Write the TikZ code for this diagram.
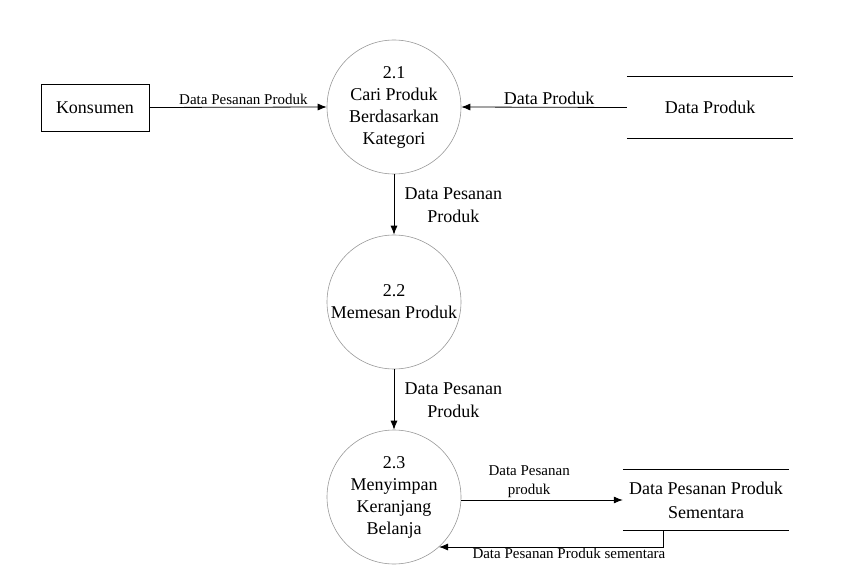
\documentclass[tikz,border=0pt]{standalone}
\usepackage{fontspec}
\setmainfont{Liberation Serif}
\usetikzlibrary{arrows.meta,calc}
\tikzset{
	proses/.style={circle, draw=black!40, line width=0.6pt, minimum size=134pt, inner sep=0pt, align=center, font=\fontsize{18}{22}\selectfont},
	entitas/.style={draw, line width=0.8pt, minimum width=108pt, minimum height=47pt, font=\fontsize{18}{22}\selectfont},
	simpan/.style={minimum width=166pt, minimum height=61pt, inner sep=0pt, align=center, font=\fontsize{18}{24}\selectfont},
	alir/.style={-{Latex[length=9pt,width=7pt]}, line width=0.8pt},
	kecil/.style={font=\fontsize{15}{19}\selectfont, align=center},
	besar/.style={font=\fontsize{18}{23}\selectfont, align=center},
}

\begin{document}
\begin{tikzpicture}[x=1pt, y=-1pt]
		%%%%% START %%%%%
		\useasboundingbox (0, 0) rectangle (852, 572);
		
		\node[entitas] (konsumen) at (95, 107.5) {Konsumen};
		
		\node[proses] (p1) at (394, 107) {2.1\\Cari Produk\\Berdasarkan\\Kategori};
		\node[proses] (p2) at (394, 302) {2.2\\Memesan Produk};
		\node[proses] (p3) at (394, 497) {2.3\\Menyimpan\\Keranjang\\Belanja};
		
		\node[simpan] (dproduk) at (710, 107.5) {Data Produk};
		\draw[line width=0.8pt] (dproduk.north west) -- (dproduk.north east);
		\draw[line width=0.8pt] (dproduk.south west) -- (dproduk.south east);
		
		\node[simpan] (dsementara) at (706, 500) {Data Pesanan Produk\\Sementara};
		\draw[line width=0.8pt] (dsementara.north west) -- (dsementara.north east);
		\draw[line width=0.8pt] (dsementara.south west) -- (dsementara.south east);
		
		\draw[alir] (konsumen.east) -- node[kecil, above, pos=0.53, inner sep=2pt] {Data Pesanan Produk} (p1.west);
		\draw[alir] (dproduk.west) -- node[besar, above, pos=0.47, inner sep=2pt] {Data Produk} (p1.east);
		
		\draw[alir] (p1.south) -- node[besar, right, xshift=7pt, yshift=-1pt] {Data Pesanan\\Produk} (p2.north);
		\draw[alir] (p2.south) -- node[besar, right, xshift=7pt, yshift=-1pt] {Data Pesanan\\Produk} (p3.north);
		
		\draw[alir] (p3.east |- dsementara.west) -- node[kecil, above, pos=0.42, inner sep=2pt] {Data Pesanan\\produk} (dsementara.west);
		
		\coordinate (balik) at ($(dsementara.south)+(-43, 0)$);
		\draw[alir] (balik) |- node[kecil, below, pos=0.71, inner sep=1pt] {Data Pesanan Produk sementara} (p3.-48);
		
		%%%%% END %%%%%
\end{tikzpicture}
\end{document}
